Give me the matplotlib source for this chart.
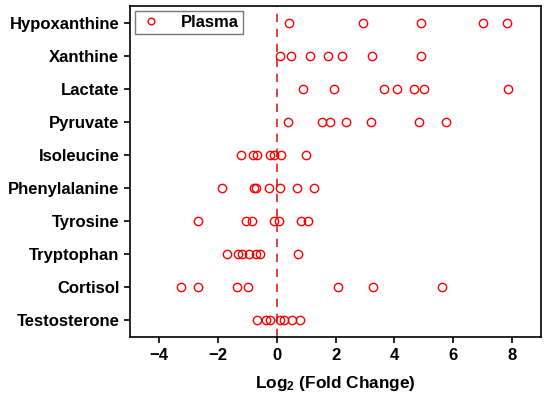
import matplotlib
matplotlib.use("Agg")
import matplotlib.pyplot as plt

plt.rcParams['font.family'] = ['Liberation Sans', 'DejaVu Sans']
plt.rcParams['font.weight'] = 'bold'
plt.rcParams['mathtext.fontset'] = 'custom'
plt.rcParams['mathtext.rm'] = 'Liberation Sans:bold'
plt.rcParams['mathtext.bf'] = 'Liberation Sans:bold'
plt.rcParams['mathtext.default'] = 'bf'

# metabolites from top to bottom
metabolites = ["Hypoxanthine", "Xanthine", "Lactate", "Pyruvate", "Isoleucine",
               "Phenylalanine", "Tyrosine", "Tryptophan", "Cortisol", "Testosterone"]

# log2 fold change values per metabolite
hypoxanthine = [0.41, 2.95, 4.91, 7.01, 7.83]
xanthine = [0.12, 0.50, 1.13, 1.76, 2.21, 3.23, 4.91]
lactate = [0.90, 1.96, 3.65, 4.08, 4.67, 5.01, 7.88]
pyruvate = [0.39, 1.53, 1.81, 2.35, 3.21, 4.83, 5.75]
isoleucine = [-1.20, -0.81, -0.67, -0.22, -0.10, 0.16, 0.99]
phenylalanine = [-1.85, -0.78, -0.72, -0.26, 0.12, 0.68, 1.26]
tyrosine = [-2.67, -1.06, -0.85, -0.08, 0.08, 0.82, 1.07]
tryptophan = [-1.69, -1.31, -1.17, -0.95, -0.72, -0.58, 0.74]
cortisol = [-3.25, -2.67, -1.34, -0.99, 2.07, 3.26, 5.63]
testosterone = [-0.68, -0.36, -0.22, 0.10, 0.26, 0.51, 0.80]

values = [hypoxanthine, xanthine, lactate, pyruvate, isoleucine,
          phenylalanine, tyrosine, tryptophan, cortisol, testosterone]

xticks = [-4, -2, 0, 2, 4, 6, 8]

fig = plt.figure(figsize=(5.5, 4.07), dpi=100)
ax = fig.add_axes([0.236, 0.172, 0.748, 0.813])

n = len(metabolites)
first = True
for i, vals in enumerate(values):
    ypos = n - 1 - i
    ax.plot(vals, [ypos] * len(vals), linestyle='none', marker='o',
            markersize=6, markerfacecolor='none', markeredgecolor='red',
            markeredgewidth=1.0, label='Plasma' if first else None)
    first = False

ax.axvline(0, color='#e0201b', linestyle=(0, (5, 4)), linewidth=1.2, zorder=0)

ax.set_xlim(-5, 9)
ax.set_ylim(-0.5, n - 0.5)
ax.set_xticks(xticks)
ax.set_xticklabels([str(t).replace('-', '\u2212') for t in xticks])
ax.set_yticks(range(n))
ax.set_yticklabels(metabolites[::-1])

ax.tick_params(axis='both', direction='out', length=4, width=1.2, labelsize=12)
ax.tick_params(axis='x', pad=4)
for side in ['left', 'bottom', 'top', 'right']:
    ax.spines[side].set_linewidth(1.2)

ax.set_xlabel('Log$_2$ (Fold Change)', fontsize=12.4, fontweight='bold', labelpad=8)

leg = ax.legend(loc='upper left', fancybox=False, frameon=True, borderaxespad=0.3,
                handletextpad=1.1, prop={'weight': 'bold', 'size': 12},
                borderpad=0.25, handlelength=1.4, markerscale=0.8)
leg.get_frame().set_edgecolor('#555555')
leg.get_frame().set_linewidth(1.0)

fig.savefig('out.png', dpi=100)
